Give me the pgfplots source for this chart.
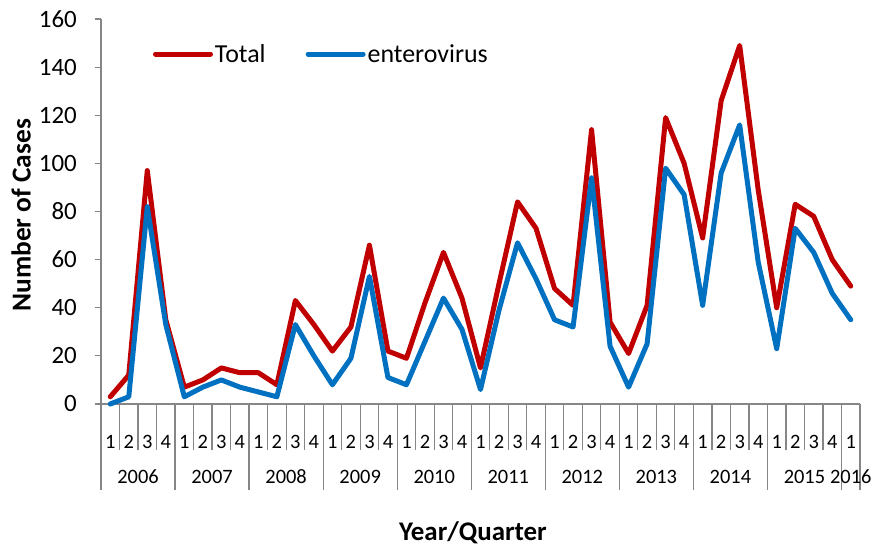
\documentclass[border=0pt]{standalone}
\usepackage{fontspec}
\setmainfont{Carlito}
\usepackage{pgfplots}
\pgfplotsset{compat=1.18}
\definecolor{totred}{RGB}{192,0,0}
\definecolor{entblue}{RGB}{0,112,192}
\definecolor{axgray}{RGB}{134,134,134}
\pgfplotstableread{
x total entero
0.5 3 0
1.5 12 3
2.5 97 82
3.5 35 33
4.5 7 3
5.5 10 7
6.5 15 10
7.5 13 7
8.5 13 5
9.5 8 3
10.5 43 33
11.5 33 20
12.5 22 8
13.5 32 19
14.5 66 53
15.5 22 11
16.5 19 8
17.5 42 26
18.5 63 44
19.5 44 31
20.5 15 6
21.5 50 39
22.5 84 67
23.5 73 52
24.5 48 35
25.5 41 32
26.5 114 94
27.5 34 24
28.5 21 7
29.5 41 25
30.5 119 98
31.5 100 87
32.5 69 41
33.5 126 96
34.5 149 116
35.5 89 59
36.5 40 23
37.5 83 73
38.5 78 63
39.5 60 46
40.5 49 35
}\datatable
\begin{document}
\begin{tikzpicture}
\begin{axis}[
  at={(0,0)}, anchor=south west,
  scale only axis, width=759bp, height=385bp,
  xmin=0, xmax=41, ymin=0, ymax=160,
  clip=false,
  axis x line*=bottom, axis y line*=left,
  axis line style={axgray, line width=1.2bp},
  ytick={0,20,...,160},
  major tick length=6bp,
  tick align=outside,
  ytick style={axgray, line width=1.2bp},
  yticklabel style={font=\fontsize{25}{30}\selectfont, anchor=east, inner sep=0pt, xshift=-18bp},
  xtick={0.5,1.5,...,40.5},
  xticklabels={1,2,3,4,1,2,3,4,1,2,3,4,1,2,3,4,1,2,3,4,1,2,3,4,1,2,3,4,1,2,3,4,1,2,3,4,1,2,3,4,1},
  xtick style={draw=none},
  xticklabel style={font=\fontsize{20.5}{24}\selectfont, anchor=base, inner sep=0pt, yshift=-38bp},
  /pgf/number format/assume math mode=true,
  xlabel={\bfseries Year/Quarter},
  xlabel style={font=\fontsize{27}{32}\selectfont, at={(axis description cs:0.490,-0.335)}, anchor=center},
  ylabel={\bfseries Number of Cases},
  ylabel style={font=\fontsize{27.5}{32}\selectfont, at={(axis description cs:-0.1054,0.49)}, anchor=center},
  legend style={draw=none, fill=none, at={(axis description cs:0.0685,0.909)}, anchor=west,
    legend columns=2, font=\fontsize{26}{30}\selectfont, inner sep=0pt, outer sep=0pt,
    nodes={inner sep=2bp},
    /tikz/every even column/.append style={column sep=38bp}},
  legend image code/.code={\draw[#1, line width=5bp, line cap=round] (0bp,0bp) -- (55bp,0bp);},
]
\addplot[totred, line width=5bp, line join=round, line cap=round] table[x=x, y=total] {\datatable};
\addlegendentry{Total}
\addplot[entblue, line width=5bp, line join=round, line cap=round] table[x=x, y=entero] {\datatable};
\addlegendentry{enterovirus}
\pgfplotsinvokeforeach{0,...,41}{\draw[axgray, line width=1.2bp] (axis cs:#1,0) -- ++(0bp,-46bp);}
\pgfplotsinvokeforeach{0,4,8,12,16,20,24,28,32,36,40,41}{\draw[axgray, line width=1.2bp] (axis cs:#1,0) -- ++(0bp,-86bp);}
\pgfplotsinvokeforeach{2006,2007,2008,2009,2010,2011,2012,2013,2014,2015}{%
  \node[anchor=base, inner sep=0pt, font=\fontsize{20.5}{24}\selectfont] at (axis cs:{(#1-2006)*4+2},0) [yshift=-79bp] {#1};}
\node[anchor=base, inner sep=0pt, font=\fontsize{20.5}{24}\selectfont] at (axis cs:40.5,0) [yshift=-79bp] {2016};
\end{axis}
\pgfresetboundingbox
\path[use as bounding box] (-101bp,-142bp) rectangle (773bp,404bp);
\end{tikzpicture}
\end{document}
